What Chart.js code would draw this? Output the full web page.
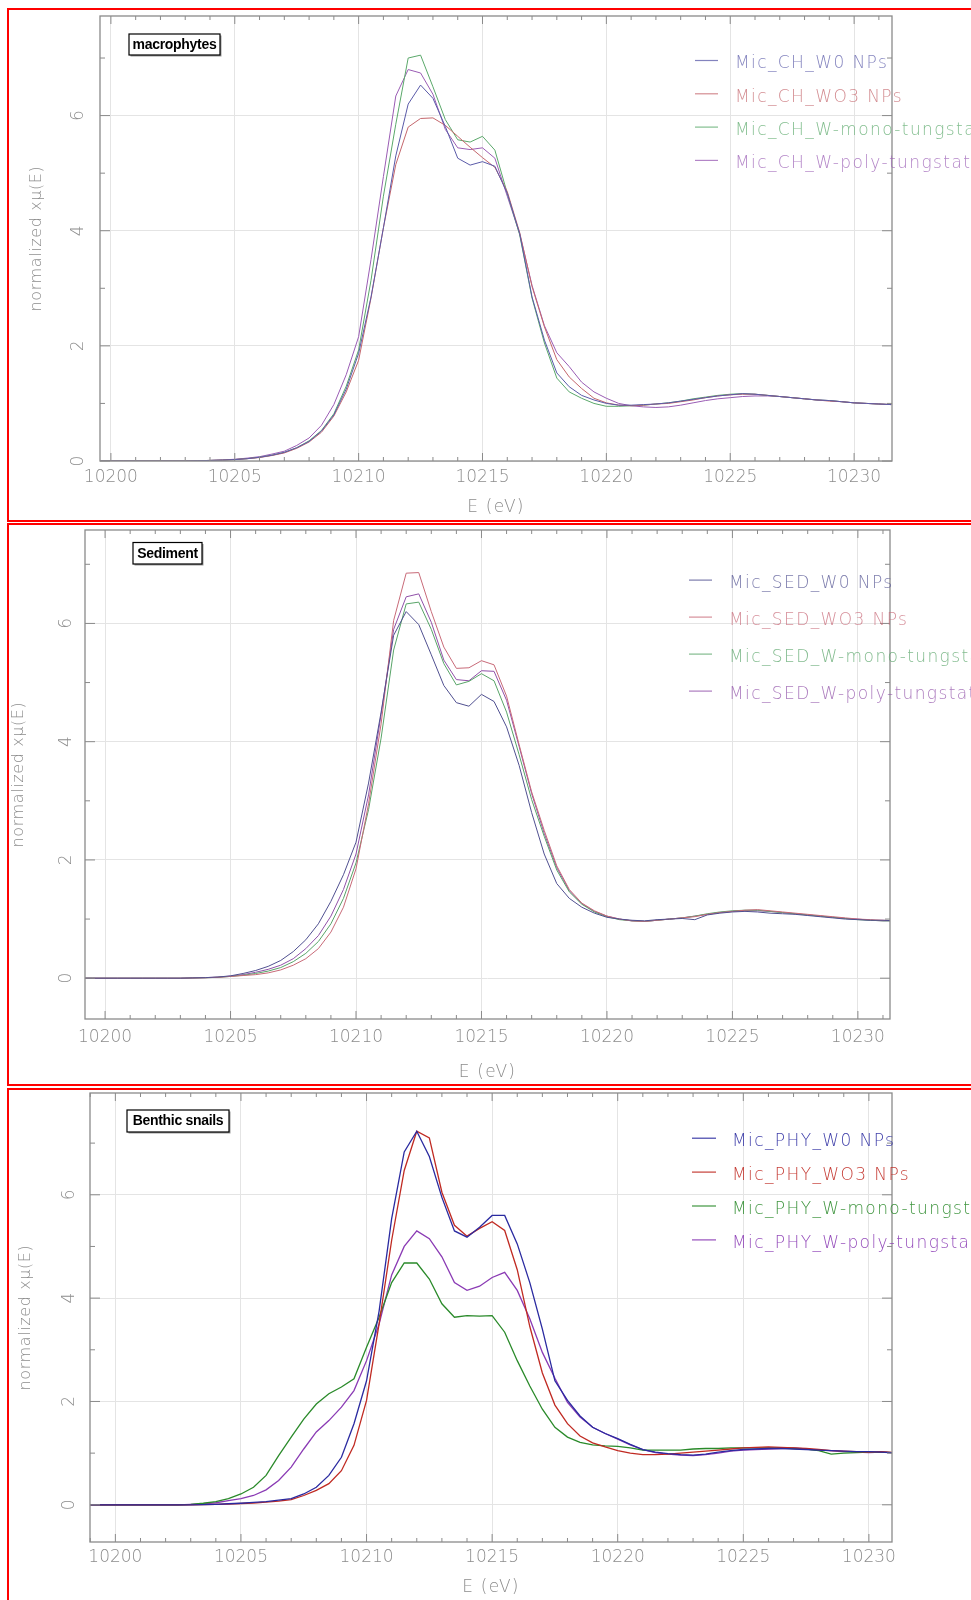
<!DOCTYPE html>
<html>
<head>
<meta charset="utf-8">
<script src="https://cdn.jsdelivr.net/npm/chart.js@4.4.1/dist/chart.umd.min.js"></script>
<style>
html, body { margin: 0; padding: 0; background: #fff; }
body { width: 971px; height: 1600px; position: relative; overflow: hidden; }
canvas { position: absolute; left: 0; }
.redbox { position: absolute; left: 7px; width: 1100px; border: 2px solid #f00; }
</style>
</head>
<body>
<canvas id="p1" width="971" height="522" style="top:0px"></canvas>
<canvas id="p2" width="971" height="566" style="top:522px"></canvas>
<canvas id="p3" width="971" height="512" style="top:1088px"></canvas>
<div class="redbox" style="top:8px;height:510px"></div>
<div class="redbox" style="top:523px;height:559px"></div>
<div class="redbox" style="top:1088px;height:600px"></div>
<script>
// energy grid (eV), 0.5 eV steps
var energy = [10199,10199.5,10200,10200.5,10201,10201.5,10202,10202.5,10203,10203.5,
  10204,10204.5,10205,10205.5,10206,10206.5,10207,10207.5,10208,10208.5,
  10209,10209.5,10210,10210.5,10211,10211.5,10212,10212.5,10213,10213.5,
  10214,10214.5,10215,10215.5,10216,10216.5,10217,10217.5,10218,10218.5,
  10219,10219.5,10220,10220.5,10221,10221.5,10222,10222.5,10223,10223.5,
  10224,10224.5,10225,10225.5,10226,10226.5,10227,10227.5,10228,10228.5,
  10229,10229.5,10230,10230.5,10231,10231.5];

// macrophytes
var chW0 = [0,0,0,0,0,0,0,0,0,
  0.005,0.01,0.015,0.025,0.04,0.065,0.1,0.15,0.23,0.34,0.52,0.8,1.25,
  1.87,2.85,4.05,5.3,6.2,6.53,6.3,5.81,5.26,5.14,5.2,5.12,
  4.65,3.95,2.85,2.1,1.53,1.29,1.14,1.06,1.0,0.97,0.97,0.98,0.99,
  1.01,1.04,1.07,1.1,1.13,1.15,1.17,1.16,1.14,1.12,1.1,1.08,1.06,1.05,1.03,1.01,1.0,0.99,0.98];
var chWO3 = [0,0,0,0,0,0,0,0,0,
  0.005,0.01,0.015,0.025,0.04,0.06,0.095,0.14,0.22,0.33,0.5,0.78,1.2,
  1.75,2.83,4.05,5.15,5.8,5.95,5.96,5.83,5.64,5.45,5.27,5.1,
  4.68,3.97,3.03,2.33,1.76,1.46,1.26,1.09,1.01,0.97,0.96,0.97,0.99,
  1.0,1.03,1.06,1.1,1.13,1.15,1.16,1.16,1.14,1.12,1.1,1.08,1.06,1.04,1.03,1.01,1.0,0.99,0.98];
var chMono = [0,0,0,0,0,0,0,0,0,
  0.005,0.01,0.015,0.025,0.04,0.065,0.1,0.15,0.23,0.35,0.53,0.82,1.3,
  1.93,3.14,4.6,5.85,7.0,7.05,6.5,5.93,5.58,5.54,5.64,5.4,
  4.65,3.93,2.83,2.05,1.44,1.2,1.09,1.0,0.95,0.95,0.96,0.97,0.99,
  1.01,1.04,1.08,1.11,1.14,1.16,1.17,1.16,1.14,1.12,1.1,1.08,1.06,1.05,1.03,1.01,1.0,0.99,0.98];
var chPoly = [0,0,0,0,0,0,0,0,0,
  0.005,0.01,0.02,0.03,0.05,0.075,0.12,0.17,0.27,0.4,0.62,0.98,1.5,
  2.16,3.5,4.94,6.34,6.8,6.74,6.37,5.76,5.44,5.41,5.44,5.26,
  4.6,3.95,3.05,2.35,1.88,1.64,1.37,1.2,1.09,1.0,0.96,0.94,0.93,
  0.94,0.97,1.01,1.05,1.08,1.1,1.12,1.13,1.13,1.12,1.1,1.08,1.06,1.05,1.03,1.01,1.0,0.99,0.98];

// sediment
var sedW0 = [0,0,0,0,0,0,0,0,0,
  0.005,0.01,0.02,0.04,0.08,0.13,0.2,0.3,0.45,0.65,0.92,1.3,1.75,
  2.3,3.3,4.5,5.8,6.2,5.98,5.47,4.95,4.66,4.6,4.8,4.68,
  4.25,3.6,2.8,2.1,1.6,1.35,1.2,1.1,1.03,1.0,0.98,0.97,0.99,
  1.0,1.01,0.99,1.07,1.1,1.12,1.13,1.12,1.1,1.09,1.08,1.06,1.04,1.02,1.0,0.99,0.98,0.98,0.97];
var sedWO3 = [0,0,0,0,0,0,0,0,0,
  0.004,0.008,0.015,0.03,0.045,0.06,0.09,0.14,0.22,0.33,0.5,0.78,1.2,
  1.85,2.95,4.3,6.05,6.85,6.86,6.2,5.6,5.24,5.25,5.37,5.3,
  4.77,3.95,3.15,2.5,1.9,1.5,1.27,1.14,1.05,1.0,0.97,0.96,0.98,
  1.0,1.02,1.04,1.08,1.11,1.13,1.15,1.16,1.14,1.12,1.1,1.08,1.06,1.04,1.02,1.0,0.99,0.98,0.97];
var sedMono = [0,0,0,0,0,0,0,0,0,
  0.004,0.008,0.015,0.03,0.05,0.08,0.12,0.18,0.28,0.42,0.62,0.92,1.35,
  1.95,2.85,4.06,5.55,6.33,6.36,5.9,5.32,4.96,5.02,5.15,5.03,
  4.5,3.78,3.02,2.4,1.83,1.46,1.25,1.12,1.04,0.99,0.97,0.96,0.98,
  1.0,1.02,1.05,1.09,1.12,1.14,1.15,1.15,1.13,1.11,1.09,1.07,1.05,1.03,1.01,0.99,0.98,0.97,0.97];
var sedPoly = [0,0,0,0,0,0,0,0,0,
  0.005,0.01,0.018,0.035,0.06,0.1,0.15,0.22,0.33,0.5,0.72,1.05,1.5,
  2.1,3.1,4.46,5.9,6.45,6.5,6.02,5.38,5.05,5.03,5.2,5.19,
  4.7,3.92,3.12,2.45,1.87,1.48,1.26,1.13,1.05,1.0,0.97,0.96,0.98,
  1.0,1.02,1.05,1.08,1.11,1.13,1.14,1.14,1.13,1.11,1.09,1.07,1.05,1.03,1.01,1.0,0.98,0.97,0.97];

// benthic snails
var phyW0 = [0,0,0,0,0,0,0,0,0,
  0.005,0.01,0.02,0.03,0.045,0.06,0.09,0.12,0.21,0.34,0.57,0.92,1.57,
  2.4,3.75,5.54,6.83,7.23,6.74,5.95,5.3,5.18,5.37,5.6,5.6,
  5.05,4.3,3.4,2.4,2.02,1.72,1.5,1.38,1.28,1.17,1.07,1.02,0.99,
  0.97,0.96,0.98,1.02,1.05,1.07,1.08,1.09,1.09,1.08,1.07,1.06,1.05,1.04,1.03,1.03,1.02,1.01,1.0];
var phyWO3 = [0,0,0,0,0,0,0,0,0,
  0.005,0.01,0.015,0.025,0.035,0.05,0.07,0.1,0.18,0.28,0.41,0.66,1.15,
  2.02,3.5,5.12,6.47,7.23,7.1,6.05,5.41,5.2,5.35,5.48,5.31,
  4.55,3.45,2.55,1.93,1.57,1.33,1.2,1.12,1.05,1.0,0.97,0.97,0.98,
  1.0,1.02,1.04,1.06,1.08,1.1,1.11,1.12,1.11,1.1,1.09,1.07,1.05,1.04,1.03,1.02,1.03,1.01,1.0];
var phyMono = [0,0,0,0,0,0,0,0,0.01,
  0.03,0.06,0.12,0.21,0.34,0.57,0.95,1.31,1.66,1.95,2.15,2.28,2.44,
  3.05,3.63,4.3,4.68,4.68,4.37,3.89,3.63,3.66,3.65,3.66,3.34,
  2.79,2.3,1.85,1.5,1.31,1.21,1.16,1.14,1.13,1.1,1.06,1.06,1.06,
  1.06,1.08,1.09,1.09,1.1,1.1,1.1,1.1,1.1,1.09,1.08,1.05,0.98,1.0,1.01,1.02,1.02,1.01,1.0];
var phyPoly = [0,0,0,0,0,0,0,0,0.01,
  0.02,0.04,0.08,0.12,0.18,0.29,0.47,0.73,1.08,1.41,1.63,1.89,2.21,
  2.79,3.5,4.45,5.0,5.3,5.15,4.8,4.3,4.15,4.23,4.4,4.5,
  4.15,3.6,2.95,2.45,1.98,1.7,1.5,1.38,1.27,1.16,1.07,1.01,0.98,
  0.96,0.95,0.97,1.0,1.04,1.06,1.07,1.08,1.09,1.1,1.08,1.06,1.05,1.03,1.02,1.01,1.02,1.0,0.99];

var chLabels = ["Mic_CH_W0 NPs", "Mic_CH_WO3 NPs", "Mic_CH_W-mono-tungstate", "Mic_CH_W-poly-tungstate"];
var sedLabels = ["Mic_SED_W0 NPs", "Mic_SED_WO3 NPs", "Mic_SED_W-mono-tungstate", "Mic_SED_W-poly-tungstate"];
var phyLabels = ["Mic_PHY_W0 NPs", "Mic_PHY_WO3 NPs", "Mic_PHY_W-mono-tungstate", "Mic_PHY_W-poly-tungstate"];
var panelTitles = ["macrophytes", "Sediment", "Benthic snails"];

var xMajor = [10200, 10205, 10210, 10215, 10220, 10225, 10230];
var xMinor = [10199,10200,10201,10202,10203,10204,10205,10206,10207,10208,10209,10210,10211,10212,10213,10214,10215,
  10216,10217,10218,10219,10220,10221,10222,10223,10224,10225,10226,10227,10228,10229,10230,10231];
var yMajor = [0, 2, 4, 6];
var yMinor = [1, 3, 5, 7];

var xTitle = "E (eV)";
var yTitle = "normalized x\u03bc(E)";

var tickFont = "200 17px 'DejaVu Sans'";

// draws frame, inward ticks, labels, legend and the title box
var decor = {
  id: 'decor',
  afterDatasetsDraw: function(chart, args, o) {
    var ctx = chart.ctx, a = chart.chartArea;
    var sx = chart.scales.x, sy = chart.scales.y;
    ctx.save();
    ctx.strokeStyle = '#8a8a8a';
    ctx.lineWidth = 1.3;
    ctx.strokeRect(a.left, a.top, a.right - a.left, a.bottom - a.top);
    ctx.lineWidth = 1;
    ctx.beginPath();
    xMinor.forEach(function(v) {
      if (v < sx.min || v > sx.max) return;
      var px = sx.getPixelForValue(v);
      var len = xMajor.indexOf(v) >= 0 ? 8 : 4;
      ctx.moveTo(px, a.bottom); ctx.lineTo(px, a.bottom - len);
      ctx.moveTo(px, a.top); ctx.lineTo(px, a.top + len);
    });
    yMajor.concat(yMinor).forEach(function(v) {
      if (v < sy.min || v > sy.max) return;
      var py = sy.getPixelForValue(v);
      var len = yMajor.indexOf(v) >= 0 ? 10 : 5;
      ctx.moveTo(a.left, py); ctx.lineTo(a.left + len, py);
      ctx.moveTo(a.right, py); ctx.lineTo(a.right - len, py);
    });
    ctx.stroke();

    // tick labels
    ctx.fillStyle = '#8c8c8c';
    ctx.font = tickFont;
    ctx.textAlign = 'center';
    ctx.textBaseline = 'middle';
    xMajor.forEach(function(v) {
      ctx.fillText(String(v), sx.getPixelForValue(v), a.bottom + o.xLabGap);
    });
    yMajor.forEach(function(v) {
      if (v < sy.min || v > sy.max) return;
      ctx.save();
      ctx.translate(a.left - o.yLabGap, sy.getPixelForValue(v));
      ctx.rotate(-Math.PI / 2);
      ctx.fillText(String(v), 0, 0);
      ctx.restore();
    });

    // axis titles
    ctx.font = "200 17px 'DejaVu Sans'";
    ctx.letterSpacing = '1.2px';
    ctx.fillText(xTitle, (a.left + a.right) / 2, a.bottom + o.xTitleGap);
    ctx.font = "200 16px 'DejaVu Sans'";
    ctx.letterSpacing = '0.6px';
    ctx.save();
    ctx.translate(o.yTitleX, (a.top + a.bottom) / 2);
    ctx.rotate(-Math.PI / 2);
    ctx.fillText(yTitle, 0, 0);
    ctx.restore();

    // legend
    ctx.font = "200 17px 'DejaVu Sans'";
    ctx.letterSpacing = '1.4px';
    ctx.textAlign = 'left';
    chart.data.datasets.forEach(function(d, i) {
      var yy = o.legY + i * o.legDy;
      ctx.globalAlpha = o.legAlpha;
      ctx.strokeStyle = d.borderColor;
      ctx.lineWidth = 1.2;
      ctx.beginPath();
      ctx.moveTo(o.legX1, yy - 3.5); ctx.lineTo(o.legX2, yy - 3.5);
      ctx.stroke();
      ctx.fillStyle = d.borderColor;
      ctx.fillText(d.label, o.legTextX, yy);
    });
    ctx.globalAlpha = 1;

    // title box
    var b = o.box;
    ctx.fillStyle = '#9a9a9a';
    ctx.fillRect(b[0] + 1.5, b[1] + 1.5, b[2], b[3]);
    ctx.fillStyle = '#fff';
    ctx.fillRect(b[0], b[1], b[2], b[3]);
    ctx.strokeStyle = '#000';
    ctx.lineWidth = 1.2;
    ctx.strokeRect(b[0], b[1], b[2], b[3]);
    ctx.fillStyle = '#000';
    ctx.font = "bold 14px 'Liberation Sans'";
    ctx.letterSpacing = '-0.3px';
    ctx.textAlign = 'center';
    ctx.fillText(o.title, b[0] + b[2] / 2, b[1] + b[3] / 2 + 0.5);
    ctx.restore();
  }
};

function makePanel(id, p) {
  var datasets = p.series.map(function(vals, i) {
    return {
      label: p.labels[i],
      data: energy.map(function(e, k) { return { x: e, y: vals[k] }; }),
      borderColor: p.colors[i],
      borderWidth: p.lineWidth,
      pointRadius: 0,
      tension: 0,
      fill: false
    };
  });
  var H = document.getElementById(id).height;
  return new Chart(document.getElementById(id), {
    type: 'line',
    data: { datasets: datasets },
    options: {
      responsive: false,
      animation: false,
      devicePixelRatio: 1,
      layout: { autoPadding: false, padding: { top: p.top, right: 971 - p.right, bottom: 0, left: 0 } },
      plugins: {
        legend: { display: false },
        tooltip: { enabled: false },
        decor: p.decor
      },
      scales: {
        x: {
          type: 'linear', min: p.xMin, max: p.xMax,
          afterBuildTicks: function(s) { s.ticks = xMajor.map(function(v) { return { value: v }; }); },
          afterFit: function(s) { s.height = H - p.bottom; },
          ticks: { display: false },
          grid: { color: '#e4e4e4', drawTicks: false },
          border: { display: false }
        },
        y: {
          type: 'linear', min: p.yMin, max: p.yMax,
          afterBuildTicks: function(s) { s.ticks = yMajor.map(function(v) { return { value: v }; }); },
          afterFit: function(s) { s.width = p.left; },
          ticks: { display: false },
          grid: { color: '#e4e4e4', drawTicks: false },
          border: { display: false }
        }
      }
    },
    plugins: [decor]
  });
}

makePanel('p1', {
  series: [chW0, chWO3, chMono, chPoly], labels: chLabels,
  colors: ['#5a5aa8', '#c4666c', '#5aa86a', '#9a5cb4'], lineWidth: 1,
  left: 100, right: 892, top: 16, bottom: 461,
  xMin: 10199.56, xMax: 10231.53, yMin: 0, yMax: 7.73,
  decor: { xLabGap: 17, yLabGap: 21, xTitleGap: 47, yTitleX: 37,
    legX1: 695, legX2: 718, legTextX: 735, legY: 64, legDy: 33.3, legAlpha: 0.75,
    box: [129, 34, 91, 21], title: panelTitles[0] }
});

makePanel('p2', {
  series: [sedW0, sedWO3, sedMono, sedPoly], labels: sedLabels,
  colors: ['#505090', '#c86a78', '#58a468', '#9050a8'], lineWidth: 1,
  left: 85, right: 890, top: 8, bottom: 497,
  xMin: 10199.2, xMax: 10231.28, yMin: -0.69, yMax: 7.58,
  decor: { xLabGap: 19, yLabGap: 18.5, xTitleGap: 53.5, yTitleX: 18.6,
    legX1: 689, legX2: 712, legTextX: 729, legY: 61.6, legDy: 37, legAlpha: 0.75,
    box: [133, 20.5, 69, 21.5], title: panelTitles[1] }
});

makePanel('p3', {
  series: [phyW0, phyWO3, phyMono, phyPoly], labels: phyLabels,
  colors: ['#2a2aa0', '#c02a22', '#2a8a2a', '#8a3ab4'], lineWidth: 1.3,
  left: 90, right: 892, top: 5, bottom: 454,
  xMin: 10198.99, xMax: 10230.92, yMin: -0.72, yMax: 7.97,
  decor: { xLabGap: 16, yLabGap: 20.3, xTitleGap: 46, yTitleX: 25.7,
    legX1: 692, legX2: 716, legTextX: 732, legY: 53.7, legDy: 33.9, legAlpha: 0.9,
    box: [127, 22, 102, 22], title: panelTitles[2] }
});
</script>
</body>
</html>
